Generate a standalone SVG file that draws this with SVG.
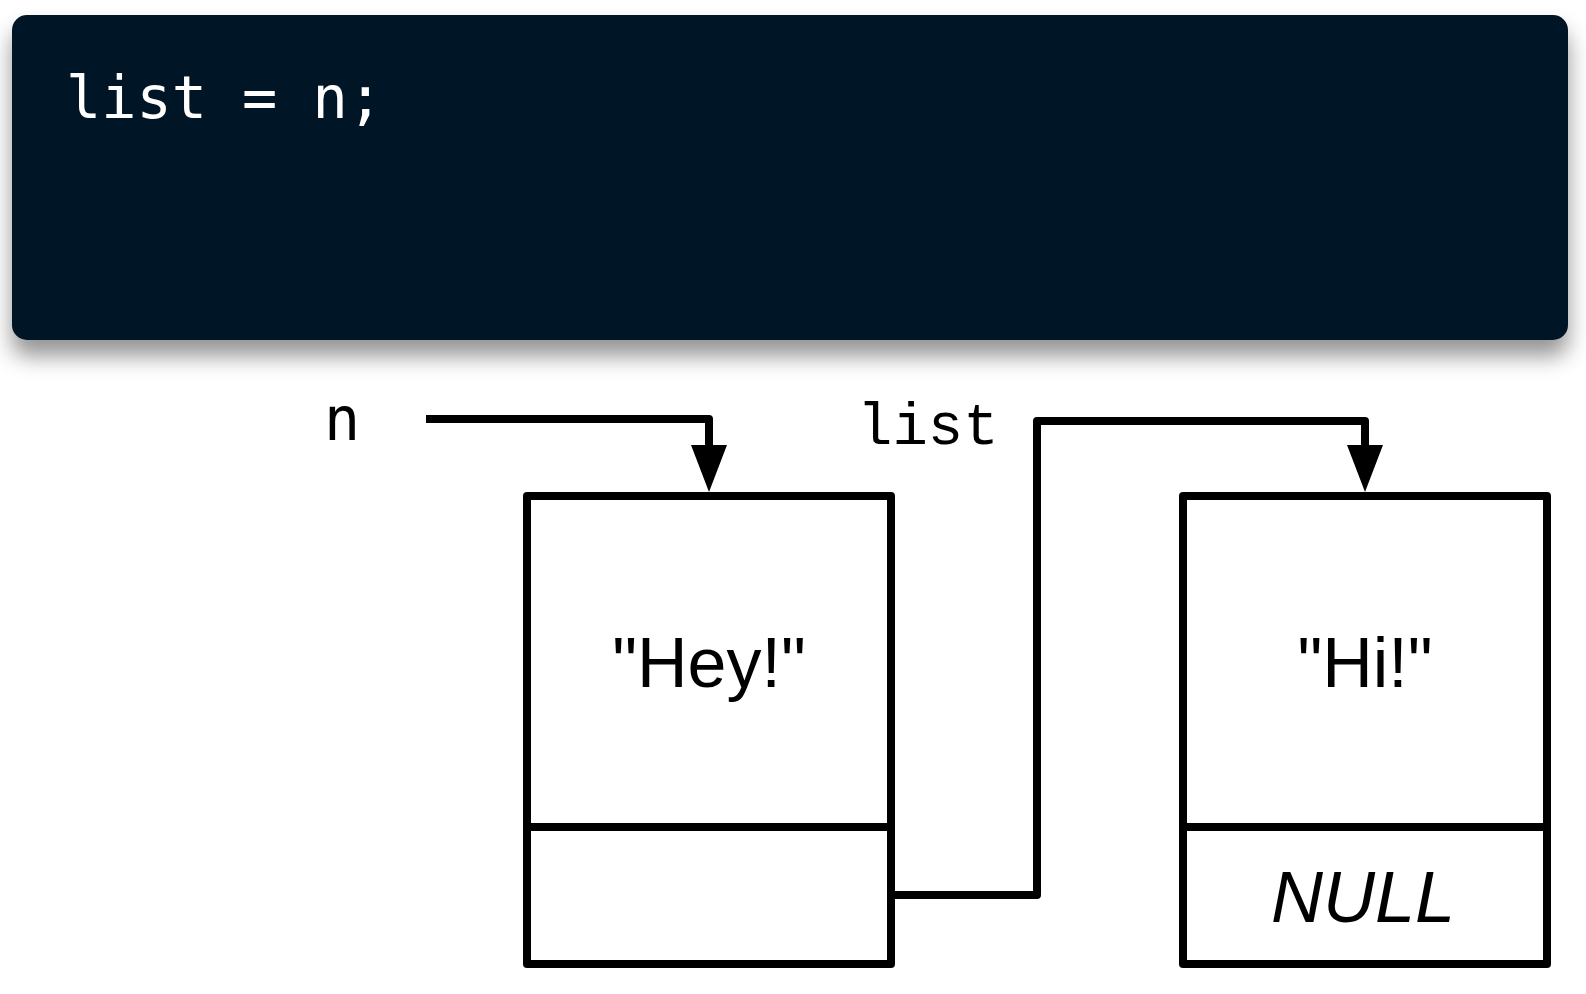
<svg xmlns="http://www.w3.org/2000/svg" width="1586" height="994" viewBox="0 0 1586 994">
  <defs>
    <filter id="shadow" x="-5%" y="-15%" width="110%" height="140%">
      <feDropShadow dx="0" dy="16" stdDeviation="11" flood-color="#000" flood-opacity="0.42"/>
    </filter>
    <marker id="arrow" markerUnits="userSpaceOnUse" markerWidth="48" markerHeight="38" refX="29" refY="19" orient="auto" viewBox="0 0 48 38">
      <path d="M0,1 L47,19 L0,37 z" fill="#000"/>
    </marker>
    <style>
      .code { font-family: "DejaVu Sans Mono", monospace; font-size: 58.5px; fill: #ffffff; }
      .var-n { font-family: "DejaVu Sans Mono", monospace; font-size: 60px; fill: #000; }
      .var-list { font-family: "Liberation Mono", monospace; font-size: 59px; fill: #000; }
      .val { font-family: "Liberation Sans", Arial, sans-serif; font-size: 70px; fill: #000; text-anchor: middle; }
      .null { font-family: "Liberation Sans", Arial, sans-serif; font-size: 72px; font-style: italic; fill: #000; text-anchor: middle; }
      .box { fill: #fff; stroke: #000; stroke-width: 8; stroke-linejoin: round; }
      .div { stroke: #000; stroke-width: 8; }
      .conn { fill: none; stroke: #000; stroke-width: 8; stroke-linejoin: round; }
    </style>
  </defs>

  <rect width="1586" height="994" fill="#ffffff"/>

  <g id="code-panel">
    <rect x="12" y="15" width="1556" height="325" rx="15" ry="15" fill="#031727" filter="url(#shadow)"/>
    <text class="code" x="66" y="118" xml:space="preserve">list = n;</text>
  </g>

  <g id="label-n">
    <text class="var-n" x="342" y="440" text-anchor="middle">n</text>
  </g>

  <g id="label-list">
    <text class="var-list" x="857" y="444">list</text>
  </g>

  <g id="node-hey">
    <rect class="box" x="527" y="496" width="364" height="468"/>
    <line class="div" x1="527" y1="827" x2="891" y2="827"/>
    <text class="val" x="709" y="687">"Hey!"</text>
  </g>

  <g id="node-hi">
    <rect class="box" x="1183" y="496" width="364" height="468"/>
    <line class="div" x1="1183" y1="827" x2="1547" y2="827"/>
    <text class="val" x="1365" y="687">"Hi!"</text>
    <text class="null" x="1363" y="922">NULL</text>
  </g>

  <g id="connectors">
    <path class="conn" d="M426,419 H709 V474" marker-end="url(#arrow)"/>
    <path class="conn" d="M891,895 H1037 V421 H1365 V474" marker-end="url(#arrow)"/>
  </g>
</svg>
